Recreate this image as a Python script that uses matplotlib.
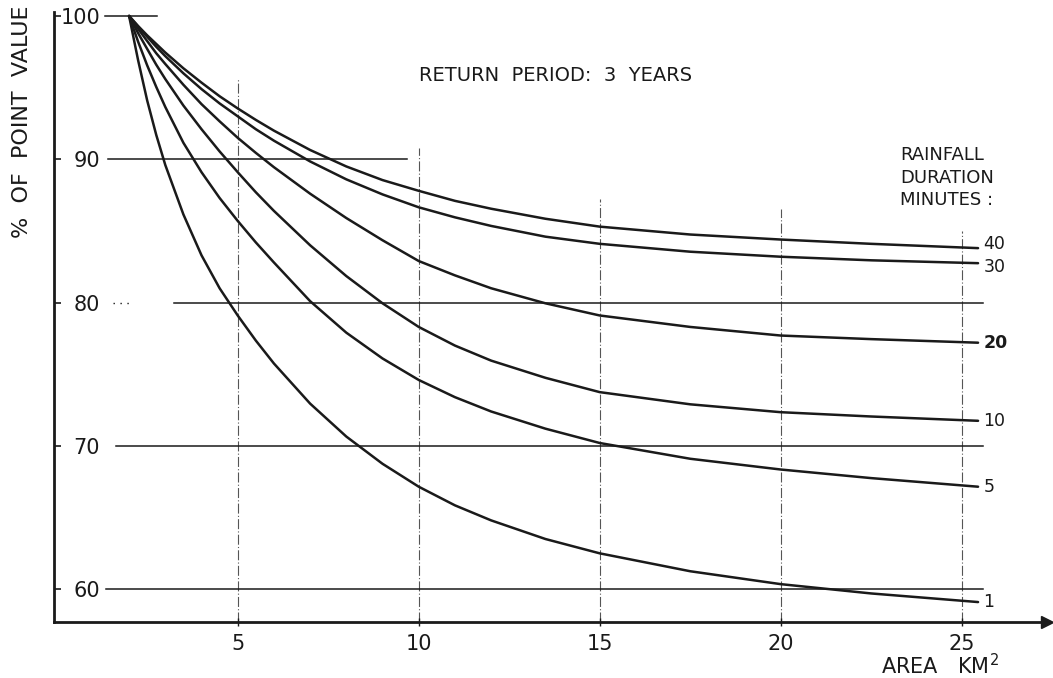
import numpy as np
import matplotlib.pyplot as plt

# values (% of point value vs area, km2)
area = [2, 2.25, 2.5, 2.75, 3, 3.5, 4, 4.5, 5, 5.5, 6, 7, 8, 9, 10, 11, 12,
        13.5, 15, 17.5, 20, 22.5, 25.45]
pct_1 = [100, 96.9, 94.1, 91.7, 89.6, 86.15, 83.3, 81.0, 79.1, 77.35, 75.75,
         72.95, 70.65, 68.75, 67.15, 65.85, 64.8, 63.5, 62.5, 61.25, 60.35,
         59.7, 59.1]
pct_5 = [100, 98.2, 96.55, 95.05, 93.65, 91.15, 89.1, 87.3, 85.7, 84.2, 82.8,
         80.1, 77.9, 76.1, 74.6, 73.4, 72.4, 71.2, 70.2, 69.1, 68.35, 67.75,
         67.15]
pct_10 = [100, 98.8, 97.7, 96.6, 95.6, 93.75, 92.1, 90.55, 89.1, 87.7, 86.4,
          84.0, 81.85, 79.95, 78.3, 77.0, 75.95, 74.75, 73.75, 72.9, 72.35,
          72.05, 71.75]
pct_20 = [100, 99.1, 98.25, 97.4, 96.65, 95.2, 93.85, 92.65, 91.5, 90.45, 89.45,
          87.6, 85.9, 84.35, 82.9, 81.9, 81.0, 79.95, 79.1, 78.3, 77.7, 77.45,
          77.2]
pct_30 = [100, 99.25, 98.55, 97.85, 97.2, 96.0, 94.9, 93.9, 93.0, 92.1, 91.3,
          89.85, 88.6, 87.55, 86.65, 85.95, 85.35, 84.6, 84.1, 83.55, 83.2,
          82.95, 82.75]
pct_40 = [100, 99.3, 98.65, 98.05, 97.45, 96.35, 95.35, 94.4, 93.55, 92.75, 92.0,
          90.65, 89.5, 88.55, 87.8, 87.1, 86.55, 85.85, 85.3, 84.75, 84.4, 84.1,
          83.8]
durations = ['1', '5', '10', '20', '30', '40']
curves = [pct_1, pct_5, pct_10, pct_20, pct_30, pct_40]

y_ticks = [60, 70, 80, 90, 100]
x_ticks = [5, 10, 15, 20, 25]

ink = '#1a1a1a'
fs = 15

fig = plt.figure(figsize=(10.53, 6.78), dpi=100)
ax = fig.add_axes([0, 0, 1, 1])
ax.set_xlim(-1.566, 27.52)
ax.set_ylim(53.80, 101.117)
ax.patch.set_visible(False)

x_base = 57.71   # level of the area axis
y_base = -0.07   # position of the percent axis

# horizontal reference lines (drawn as segments like the original)
h_lines = [(100, 1.33, 2.77), (90, 1.42, 9.68), (80, 3.24, 25.6),
           (70, 1.64, 25.6), (60, 1.36, 25.6)]
for yv, x0, x1 in h_lines:
    ax.plot([x0, x1], [yv, yv], color=ink, lw=1.1, zorder=2)
ax.plot([1.56, 2.11], [80, 80], color=ink, lw=1.0, ls=(0, (1, 4)), zorder=2)

# vertical dash-dot lines
v_tops = [95.7, 90.8, 87.2, 86.5, 85.0]
for xv, top in zip(x_ticks, v_tops):
    ax.plot([xv, xv], [x_base, top], color='#555555', lw=0.8,
            ls=(0, (9, 2, 1, 2)), zorder=1)

# curves
label_shift = {'40': 0.3, '30': -0.25}
for lab, vals in zip(durations, curves):
    ax.plot(area, vals, color=ink, lw=1.8, zorder=3, solid_capstyle='round',
            solid_joinstyle='round')
    ax.text(area[-1] + 0.15, vals[-1] + label_shift.get(lab, 0), lab,
            fontsize=12.5, ha='left', va='center', color=ink,
            fontweight='bold' if lab == '20' else 'normal')

# axes
for s in ['top', 'right']:
    ax.spines[s].set_visible(False)
ax.spines['left'].set_position(('data', y_base))
ax.spines['left'].set_bounds(x_base, 100.3)
ax.spines['bottom'].set_position(('data', x_base))
ax.spines['bottom'].set_bounds(y_base, 27.3)
for s in ['left', 'bottom']:
    ax.spines[s].set_linewidth(2.0)
    ax.spines[s].set_color(ink)
ax.plot([27.35], [x_base], marker='>', ms=9, color=ink, clip_on=False)

ax.set_yticks(y_ticks)
ax.set_yticklabels([str(v) for v in y_ticks])
ax.tick_params(axis='y', direction='in', length=5, width=1.2, pad=-33,
               labelsize=fs, colors=ink)
ax.set_xticks(x_ticks)
ax.set_xticklabels([str(v) for v in x_ticks])
ax.tick_params(axis='x', direction='inout', length=6, width=1.0, pad=6,
               labelsize=fs, colors=ink)

# texts
ax.text(13.77, 95.88, 'RETURN  PERIOD:  3  YEARS', fontsize=14, ha='center',
        va='center', color=ink)
ax.text(-0.96, 92.6, '%  OF  POINT  VALUE', fontsize=16, rotation=90,
        ha='center', va='center', color=ink)
ax.text(23.29, 90.9, 'RAINFALL\nDURATION\nMINUTES :', fontsize=13, ha='left',
        va='top', linespacing=1.3, color=ink)
ax.text(24.4, 54.7, 'AREA   KM$^{2}$', fontsize=15, ha='center', va='center',
        color=ink)

fig.savefig('out.png', dpi=100)
